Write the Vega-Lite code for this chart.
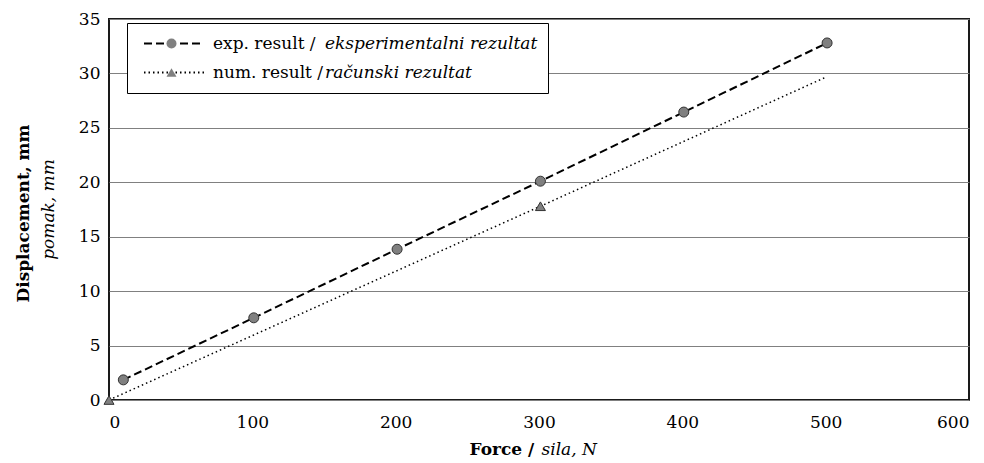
{
  "$schema": "https://vega.github.io/schema/vega-lite/v6.json",
  "width": 860,
  "height": 381,
  "autosize": {"type": "none"},
  "padding": {"left": 109, "top": 19, "right": 15, "bottom": 63},
  "background": "white",
  "config": {
    "view": {"stroke": "#1a1a1a", "strokeWidth": 2},
    "font": "DejaVu Serif",
    "axis": {
      "labelFont": "DejaVu Serif",
      "labelFontSize": 17,
      "labelColor": "#000",
      "titleFont": "DejaVu Serif",
      "titleFontSize": 17,
      "titleColor": "#000",
      "ticks": false,
      "tickSize": 0,
      "domain": false
    },
    "legend": {
      "labelFont": "DejaVu Serif",
      "labelFontSize": 17,
      "labelColor": "#000",
      "labelLimit": 0,
      "clipHeight": 21
    }
  },
  "data": {
    "values": [
      {"force": 10, "disp": 1.85, "series": "exp. result /", "ital": "eksperimentalni rezultat", "kind": "exp", "marker": true},
      {"force": 101, "disp": 7.55, "series": "exp. result /", "ital": "eksperimentalni rezultat", "kind": "exp", "marker": true},
      {"force": 201, "disp": 13.85, "series": "exp. result /", "ital": "eksperimentalni rezultat", "kind": "exp", "marker": true},
      {"force": 301, "disp": 20.1, "series": "exp. result /", "ital": "eksperimentalni rezultat", "kind": "exp", "marker": true},
      {"force": 401, "disp": 26.45, "series": "exp. result /", "ital": "eksperimentalni rezultat", "kind": "exp", "marker": true},
      {"force": 501, "disp": 32.8, "series": "exp. result /", "ital": "eksperimentalni rezultat", "kind": "exp", "marker": true},
      {"force": 0, "disp": 0, "series": "num. result /", "ital": "računski rezultat", "kind": "num", "marker": true},
      {"force": 301, "disp": 17.8, "series": "num. result /", "ital": "računski rezultat", "kind": "num", "marker": true},
      {"force": 500, "disp": 29.65, "series": "num. result /", "ital": "računski rezultat", "kind": "num", "marker": false}
    ]
  },
  "resolve": {"axis": {"x": "independent", "y": "independent"}},
  "layer": [
    {
      "mark": {"type": "line", "color": "#000"},
      "encoding": {
        "x": {
          "field": "force",
          "type": "quantitative",
          "scale": {"domain": [0, 600], "nice": false, "zero": false},
          "axis": {
            "orient": "bottom",
            "values": [0, 100, 200, 300, 400, 500, 600],
            "grid": false,
            "labelPadding": 14,
            "title": "Force /",
            "titleFontWeight": "bold",
            "titleX": 360,
            "titleY": 54,
            "titleAlign": "left",
            "titleBaseline": "alphabetic"
          }
        },
        "y": {
          "field": "disp",
          "type": "quantitative",
          "scale": {"domain": [0, 35], "nice": false, "zero": false},
          "axis": {
            "orient": "left",
            "values": [0, 5, 10, 15, 20, 25, 30, 35],
            "grid": true,
            "gridColor": "#808080",
            "gridWidth": 1,
            "gridOpacity": 1,
            "labelPadding": 9,
            "title": "Displacement, mm",
            "titleFontWeight": "bold",
            "titleAngle": -90,
            "titleX": -81,
            "titleY": 194,
            "titleAlign": "center",
            "titleBaseline": "alphabetic"
          }
        },
        "strokeDash": {
          "field": "series",
          "type": "nominal",
          "scale": {"domain": ["exp. result /", "num. result /"], "range": [[8, 4], [1.5, 3]]},
          "legend": {
            "orient": "none",
            "legendX": 18,
            "legendY": 4,
            "padding": 10,
            "title": null,
            "symbolType": "stroke",
            "symbolSize": 3600,
            "symbolStrokeColor": "#000",
            "symbolStrokeWidth": 2,
            "symbolOffset": 6,
            "labelOffset": 8,
            "labelFont": "DejaVu Serif",
            "labelFontStyle": "normal",
            "rowPadding": 8,
            "zindex": 2
          }
        },
        "strokeWidth": {
          "field": "ital",
          "type": "nominal",
          "scale": {"domain": ["eksperimentalni rezultat", "računski rezultat"], "range": [2, 1.5]},
          "legend": {
            "orient": "none",
            "legendX": 18,
            "legendY": 4,
            "padding": 10,
            "title": null,
            "symbolType": "stroke",
            "symbolSize": 3600,
            "symbolOpacity": 0,
            "labelOffset": 126,
            "labelFont": "DejaVu Serif",
            "labelFontStyle": "italic",
            "rowPadding": 8,
            "strokeColor": "#000",
            "fillColor": "#ffffff",
            "zindex": 1
          }
        }
      }
    },
    {
      "transform": [{"filter": "datum.marker"}],
      "mark": {"type": "point", "filled": true, "color": "#808080", "stroke": "#333333", "strokeWidth": 1, "size": 100, "opacity": 1},
      "encoding": {
        "x": {
          "field": "force",
          "type": "quantitative",
          "axis": {
            "orient": "bottom",
            "labels": false,
            "grid": false,
            "title": "sila, N",
            "titleFontStyle": "italic",
            "titleFontWeight": "normal",
            "titleX": 432,
            "titleY": 54,
            "titleAlign": "left",
            "titleBaseline": "alphabetic"
          }
        },
        "y": {
          "field": "disp",
          "type": "quantitative",
          "axis": {
            "orient": "left",
            "labels": false,
            "grid": false,
            "title": "pomak, mm",
            "titleFontStyle": "italic",
            "titleFontWeight": "normal",
            "titleAngle": -90,
            "titleX": -56,
            "titleY": 190,
            "titleAlign": "center",
            "titleBaseline": "alphabetic"
          }
        },
        "shape": {
          "field": "kind",
          "type": "nominal",
          "scale": {"domain": ["exp", "num"], "range": ["circle", "triangle-up"]},
          "legend": {
            "orient": "none",
            "legendX": 44,
            "legendY": 4,
            "padding": 10,
            "title": null,
            "symbolSize": 100,
            "symbolFillColor": "#808080",
            "symbolStrokeColor": "#333333",
            "symbolStrokeWidth": 1,
            "labelExpr": "''",
            "rowPadding": 8,
            "zindex": 3
          }
        }
      }
    }
  ]
}
